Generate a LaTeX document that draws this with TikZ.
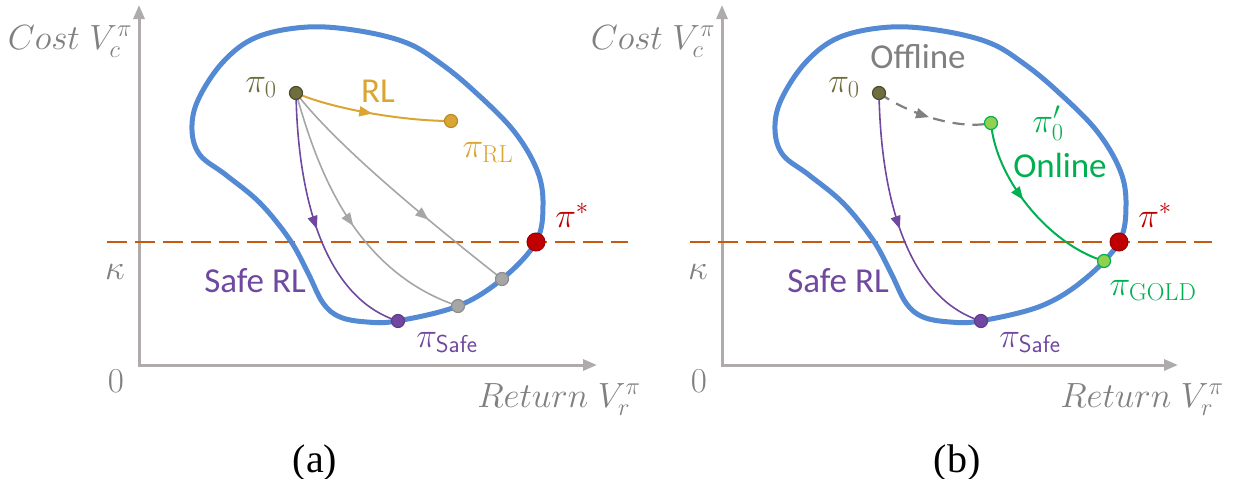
\RequirePackage{fix-cm}
\documentclass[tikz,border=0pt]{standalone}
\usepackage{fontspec}
\newfontfamily\carlito{Carlito}
\newfontfamily\timesf{Liberation Serif}
\usetikzlibrary{arrows.meta,decorations.markings}
\definecolor{blobblue}{RGB}{84,137,211}
\definecolor{axisgray}{RGB}{175,171,171}
\definecolor{txtgray}{RGB}{128,128,128}
\definecolor{kappaline}{RGB}{197,90,17}
\definecolor{oliveC}{RGB}{110,110,62}
\definecolor{goldC}{RGB}{218,165,50}
\definecolor{purpC}{RGB}{112,72,160}
\definecolor{redC}{RGB}{192,0,0}
\definecolor{greenC}{RGB}{0,176,80}
\definecolor{lgreenC}{RGB}{146,208,80}
\definecolor{dotgray}{RGB}{166,166,166}
\tikzset{
 axisline/.style={draw=axisgray, line width=3pt, arrows={Triangle[length=14pt,width=11pt]-Triangle[length=14pt,width=11pt]}},
 blob/.style={draw=blobblue, line width=5pt},
 kline/.style={draw=kappaline, line width=2pt, dash pattern=on 20pt off 8pt},
 pdot/.style={circle, inner sep=0pt, minimum size=13pt, line width=1.2pt},
 bigdot/.style={circle, inner sep=0pt, minimum size=18pt, fill=redC, draw=redC!80!black, line width=1pt},
 midarrow/.style={postaction={decorate, decoration={markings, mark=at position #1 with {\arrow{Triangle[length=13pt,width=10pt]}}}}},
 curveline/.style={line width=1.6pt},
 mathlbl/.style={font=\fontsize{35}{40}\selectfont, inner sep=0pt, anchor=base},
 sanslbl/.style={font=\carlito\fontsize{35}{42}\selectfont, inner sep=0pt, anchor=base},
 caplbl/.style={font=\timesf\fontsize{40}{46}\selectfont, inner sep=0pt, anchor=base},
}
\begin{document}
\begin{tikzpicture}[x=1pt,y=-1pt]
\useasboundingbox (0,0) rectangle (1242,479);
% axis coordinates
\coordinate (o1) at (139,365); \coordinate (yt1) at (139,5); \coordinate (xe1) at (597,365);
\coordinate (o2) at (722,365); \coordinate (yt2) at (722,5); \coordinate (xe2) at (1178,365);
\coordinate (k1a) at (107,242); \coordinate (k1b) at (628,242);
\coordinate (k2a) at (690,242); \coordinate (k2b) at (1212,242);
% policy points
\coordinate (p0) at (296,93); \coordinate (prl) at (451,121); \coordinate (psafe) at (398,321);
\coordinate (pg1) at (458,306); \coordinate (pg2) at (502,279); \coordinate (pstar) at (536,242);
\coordinate (q0) at (879,93); \coordinate (qp) at (991,123); \coordinate (qsafe) at (981,321);
\coordinate (qgold) at (1104,261); \coordinate (qstar) at (1119,242);
% axes
\draw[axisline] (yt1) -- (o1) -- (xe1);
\draw[axisline] (yt2) -- (o2) -- (xe2);
\draw[kline] (k1a) -- (k1b);
\draw[kline] (k2a) -- (k2b);
% blobs
\foreach \s in {0,583}{
\begin{scope}[xshift=\s pt]
\draw[blob] plot[smooth cycle, tension=0.6] coordinates {
(308,27) (360,31) (407,43) (440,63) (473,90) (513,130) (537,170) (543,205) (536,242)
(502,279) (458,306) (397,321) (367,322) (340,317) (323,303) (308,273) (290,240)
(260,203) (226,175) (200,155) (192,130) (198,100) (223,62) (257,37)};
\end{scope}}
% curves left
\draw[goldC, line width=2pt, midarrow=0.5] (p0) .. controls (330,108) and (400,121) .. (prl);
\draw[dotgray, curveline, midarrow=0.52] (p0) .. controls (315,160) and (350,270) .. (pg1);
\draw[dotgray, curveline, midarrow=0.66] (p0) .. controls (340,150) and (440,230) .. (pg2);
\draw[purpC, curveline, midarrow=0.52] (p0) .. controls (298,210) and (330,300) .. (psafe);
% curves right
\draw[purpC, curveline, midarrow=0.52] (q0) .. controls (881,210) and (913,300) .. (qsafe);
\draw[txtgray, line width=2.2pt, dash pattern=on 12pt off 8pt, midarrow=0.47] (q0) .. controls (910,115) and (960,130) .. (qp);
\draw[greenC, line width=2pt, midarrow=0.45] (qp) .. controls (996,180) and (1050,245) .. (qgold);
% dots
\node[pdot, fill=oliveC, draw=oliveC!70!black] (dp0) at (p0) {};
\node[pdot, fill=goldC, draw=goldC!85!black] (dprl) at (prl) {};
\node[pdot, fill=dotgray, draw=dotgray!85!black] (dpg1) at (pg1) {};
\node[pdot, fill=dotgray, draw=dotgray!85!black] (dpg2) at (pg2) {};
\node[pdot, fill=purpC, draw=purpC!85!black] (dpsafe) at (psafe) {};
\node[bigdot] (dpstar) at (pstar) {};
\node[pdot, fill=oliveC, draw=oliveC!70!black] (dq0) at (q0) {};
\node[pdot, fill=lgreenC, draw=greenC] (dqp) at (qp) {};
\node[pdot, fill=lgreenC, draw=greenC] (dqgold) at (qgold) {};
\node[pdot, fill=purpC, draw=purpC!85!black] (dqsafe) at (qsafe) {};
\node[bigdot] (dqstar) at (qstar) {};
% labels left
\node[mathlbl, text=txtgray] (cost1) at (70,49) {$Cost\;V_c^{\pi}$};
\node[mathlbl, text=txtgray] (ret1) at (559,407) {$Return\;V_r^{\pi}$};
\node[mathlbl, text=txtgray] (kap1) at (115,279) {$\kappa$};
\node[mathlbl, text=txtgray] (zero1) at (116,392) {$0$};
\node[mathlbl, text=oliveC] (lp0) at (261,92) {$\pi_0$};
\node[sanslbl, text=goldC] (lrl) at (378,102) {RL};
\node[mathlbl, text=goldC] (lprl) at (488,157) {$\pi_{\mathrm{RL}}$};
\node[sanslbl, text=purpC] (lsafe1) at (255,292) {Safe RL};
\node[mathlbl, text=purpC] (lpsafe1) at (447,347) {$\pi_{\mathsf{Safe}}$};
\node[mathlbl, text=redC] (lpstar1) at (572,227) {$\pi^*$};
\node[caplbl] (capa) at (315,472) {(a)};
% labels right
\node[mathlbl, text=txtgray] (cost2) at (653,49) {$Cost\;V_c^{\pi}$};
\node[mathlbl, text=txtgray] (ret2) at (1142,407) {$Return\;V_r^{\pi}$};
\node[mathlbl, text=txtgray] (kap2) at (698,279) {$\kappa$};
\node[mathlbl, text=txtgray] (zero2) at (699,392) {$0$};
\node[mathlbl, text=oliveC] (lq0) at (844,92) {$\pi_0$};
\node[sanslbl, text=txtgray] (loff) at (918,68) {Offline};
\node[mathlbl, text=greenC] (lqp) at (1048,132) {$\pi'_0$};
\node[sanslbl, text=greenC] (lon) at (1060,177) {Online};
\node[mathlbl, text=greenC] (lgold) at (1153,295) {$\pi_{\mathrm{GOLD}}$};
\node[sanslbl, text=purpC] (lsafe2) at (838,292) {Safe RL};
\node[mathlbl, text=purpC] (lpsafe2) at (1030,347) {$\pi_{\mathsf{Safe}}$};
\node[mathlbl, text=redC] (lpstar2) at (1155,227) {$\pi^*$};
\node[caplbl] (capb) at (957,472) {(b)};
\end{tikzpicture}
\end{document}
